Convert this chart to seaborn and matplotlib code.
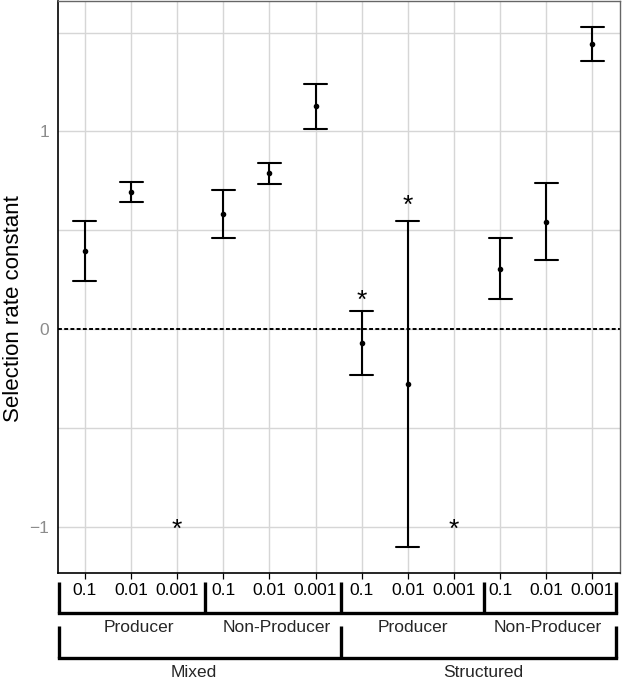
import numpy as np
import pandas as pd
import matplotlib
matplotlib.use("Agg")
import matplotlib.pyplot as plt
import matplotlib.transforms as mtransforms
import seaborn as sns

sns.set_theme(style="whitegrid")
plt.rcParams["font.family"] = ["Liberation Sans", "DejaVu Sans"]

# data
treatments = ["Mixed"] * 6 + ["Structured"] * 6
strains = (["Producer"] * 3 + ["Non-Producer"] * 3) * 2
concentrations = ["0.1", "0.01", "0.001"] * 4
means = [0.395, 0.692, np.nan, 0.582, 0.790, 1.127,
         -0.071, -0.278, np.nan, 0.304, 0.542, 1.443]
lower = [0.243, 0.643, np.nan, 0.461, 0.734, 1.013,
         -0.233, -1.104, np.nan, 0.152, 0.349, 1.357]
upper = [0.547, 0.743, np.nan, 0.704, 0.840, 1.240,
         0.091, 0.547, np.nan, 0.461, 0.739, 1.529]
stars = [np.nan, np.nan, -0.99, np.nan, np.nan, np.nan,
         0.167, 0.65, -0.99, np.nan, np.nan, np.nan]

keys = [f"{t}|{s}|{c}" for t, s, c in zip(treatments, strains, concentrations)]

rows = []
for k, lo, m, hi in zip(keys, lower, means, upper):
    if np.isnan(m):
        continue
    for v in (lo, m, hi):
        rows.append({"key": k, "value": v})
df = pd.DataFrame(rows)

fig = plt.figure(figsize=(6.22, 6.83), dpi=100)
ax = fig.add_axes([0.0935, 0.161, 0.9035, 0.8375])

ax.axhline(0, color="black", linestyle=(0, (2, 1.2)), linewidth=1.4, zorder=2)

sns.pointplot(data=df, x="key", y="value", order=keys, estimator="median",
              errorbar=lambda v: (v.min(), v.max()), capsize=0.5,
              linestyle="none", color="black", markersize=2.0,
              err_kws={"linewidth": 1.5}, ax=ax)

for i, s in enumerate(stars):
    if not np.isnan(s):
        ax.text(i, s - 0.025, "*", ha="center", va="center", fontsize=19, color="black")

ax.set_xlim(-0.58, 11.6)
ax.set_ylim(-1.235, 1.66)
ax.set_yticks([-1, 0, 1])
ax.set_yticklabels(["\u22121", "0", "1"])
ax.set_yticks([-0.5, 0.5, 1.5], minor=True)
ax.set_xticks(range(12))
ax.set_xticklabels(concentrations)
ax.set_xlabel("")
ax.set_ylabel("Selection rate constant", fontsize=16, color="black")
ax.yaxis.set_label_coords(-0.060, 0.463)

ax.grid(True, which="both", color="#d6d6d6", linewidth=1.0)
ax.set_axisbelow(True)
ax.tick_params(axis="y", which="major", colors="#8c8c8c", labelsize=12.5, length=3, width=0.8)
ax.tick_params(axis="y", which="minor", length=0)
ax.tick_params(axis="x", colors="black", labelsize=12.5, length=4, width=0.9, pad=3,
               bottom=True)
for side in ["left", "bottom"]:
    ax.spines[side].set_color("black")
    ax.spines[side].set_linewidth(1.2)
for side in ["top", "right"]:
    ax.spines[side].set_color("#666666")
    ax.spines[side].set_linewidth(1.0)

# nested bracket labels below the axis
trans = mtransforms.blended_transform_factory(ax.transData, ax.transAxes)
lw = 2.4
y1a, y1b = -0.0157, -0.070
y2a, y2b = -0.093, -0.149
level1 = [-0.57, 2.6, 5.56, 8.64, 11.51]
for x in level1:
    ax.plot([x, x], [y1a, y1b], color="black", lw=lw, transform=trans, clip_on=False,
            solid_capstyle="butt")
ax.plot([level1[0], level1[-1]], [y1b, y1b], color="black", lw=lw, transform=trans,
        clip_on=False, solid_capstyle="projecting")
level2 = [-0.57, 5.56, 11.51]
for x in level2:
    ax.plot([x, x], [y2a, y2b], color="black", lw=lw, transform=trans, clip_on=False,
            solid_capstyle="butt")
ax.plot([level2[0], level2[-1]], [y2b, y2b], color="black", lw=lw, transform=trans,
        clip_on=False, solid_capstyle="projecting")

strain_labels = ["Producer", "Non-Producer", "Producer", "Non-Producer"]
for x, lab in zip([1.17, 4.16, 7.1, 10.03], strain_labels):
    ax.text(x, -0.095, lab, ha="center", va="center", fontsize=12.5, transform=trans)
for x, lab in zip([2.35, 8.64], ["Mixed", "Structured"]):
    ax.text(x, -0.174, lab, ha="center", va="center", fontsize=12.5, transform=trans)

fig.savefig("out.png", dpi=100)
